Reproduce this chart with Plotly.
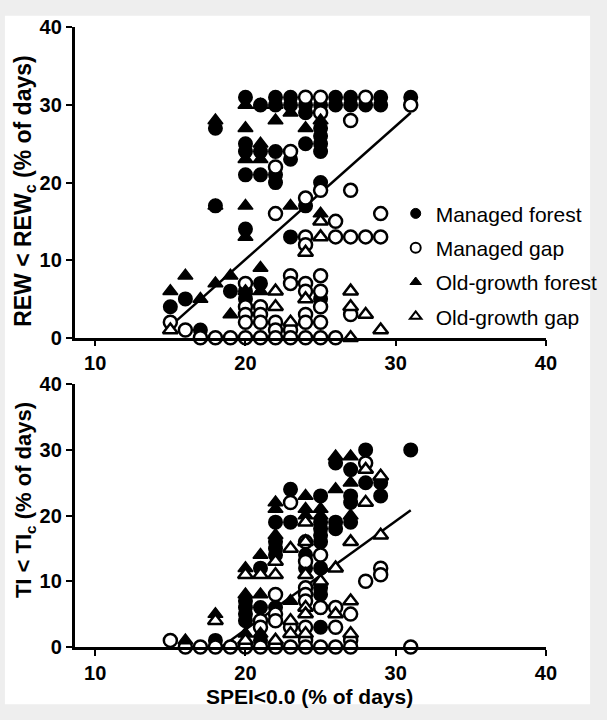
import plotly.graph_objects as go

# ---------------- data (top panel: REW < REWc) ----------------
mf_top_x = [15, 16, 17, 18, 18, 19, 20, 20, 20, 20, 20, 20, 20, 21, 21, 21, 21,
            22, 22, 22, 22, 22, 23, 23, 23, 23, 24, 24, 24, 24,
            25, 25, 25, 25, 25, 25, 25, 26, 26, 27, 27, 28, 29, 29, 31]
mf_top_y = [4, 5, 1, 27, 17, 6, 31, 25, 24, 21, 14, 6, 5, 30, 24, 21, 7,
            31, 30, 24, 21, 20, 31, 30, 23, 13, 30, 29, 25, 17,
            30, 27, 26, 25, 24, 20, 5, 31, 30, 31, 30, 30, 31, 30, 31]

mg_top_x = [15, 16, 17, 18, 19, 20, 20, 20, 20, 20, 21, 21, 21, 21,
            22, 22, 22, 22, 22, 23, 23, 23, 23, 23,
            24, 24, 24, 24, 24, 24, 24, 24, 24,
            25, 25, 25, 25, 25, 25, 25, 25, 26, 26, 26, 27, 27, 27, 27, 28, 28, 29, 29, 31]
mg_top_y = [2, 1, 0, 0, 0, 0, 7, 4, 3, 2, 0, 4, 3, 2,
            22, 16, 2, 1, 0, 24, 8, 7, 1, 0,
            31, 18, 13, 12, 7, 6, 3, 2, 0,
            31, 29, 19, 8, 6, 4, 2, 0, 15, 13, 0, 28, 19, 13, 3, 31, 13, 16, 13, 30]

of_top_x = [15, 16, 17, 18, 18, 18, 19, 19, 20, 20, 20, 20, 20, 20,
            21, 21, 21, 21, 21, 22, 22, 23, 23, 24, 25, 25]
of_top_y = [6, 8, 5, 28, 17, 7, 8, 3, 30, 27, 23, 17, 13, 6,
            30, 25, 23, 9, 6, 30, 28, 29, 17, 27, 28, 16]

og_top_x = [15, 22, 22, 23, 24, 24, 25, 25, 27, 27, 27, 28, 29]
og_top_y = [1, 6, 4, 2, 11, 5, 15, 13, 6, 4, 0, 3, 1]

fit_top_x = [15, 31]
fit_top_y = [1.5, 29.0]

# ---------------- data (bottom panel: TI < TIc) ----------------
mf_bot_x = [18, 20, 20, 20, 20, 21, 21, 21, 22, 22, 22, 22, 22, 23, 23, 24, 24,
            25, 25, 25, 25, 25, 25, 25, 25, 25, 25, 26, 26, 26,
            27, 27, 27, 27, 28, 28, 29, 29, 31]
mf_bot_y = [1, 7, 6, 5, 4, 12, 6, 1, 19, 16, 15, 14, 6, 24, 19, 14, 12,
            23, 19, 18, 17, 16, 12, 9, 8, 6, 3, 28, 19, 18,
            27, 23, 22, 19, 30, 25, 25, 23, 30]

mg_bot_x = [15, 16, 17, 18, 19, 20, 21, 21, 21, 22, 22, 22, 22, 23, 23, 23,
            24, 24, 24, 24, 24, 24, 24, 24, 25, 25, 25, 26, 26, 26,
            27, 27, 27, 28, 28, 29, 29, 31]
mg_bot_y = [1, 0, 0, 0, 0, 0, 4, 3, 0, 8, 5, 4, 0, 22, 3, 0,
            16, 13, 9, 8, 7, 3, 1, 0, 14, 6, 0, 6, 3, 0,
            5, 1, 0, 28, 10, 12, 11, 0]

of_bot_x = [16, 18, 20, 20, 20, 21, 21, 21, 22, 22, 22, 23, 24, 24, 24,
            25, 25, 26, 26, 27, 27, 27, 29]
of_bot_y = [1, 5, 12, 8, 2, 14, 8, 2, 22, 21, 17, 7, 23, 21, 20,
            21, 20, 24, 29, 29, 25, 20, 26]

og_bot_x = [18, 20, 20, 21, 22, 22, 22, 23, 23, 23, 24, 24, 24, 24, 24, 24,
            25, 26, 26, 27, 27, 27, 28, 28, 29, 29]
og_bot_y = [4, 11, 1, 11, 13, 11, 1, 15, 4, 2, 19, 16, 11, 6, 5, 2,
            10, 12, 5, 16, 7, 2, 27, 22, 26, 17]

fit_bot_x = [18.4, 31]
fit_bot_y = [0, 20.8]

series_names = ["Managed forest", "Managed gap", "Old-growth forest", "Old-growth gap"]
x_ticks = [10, 20, 30, 40]
y_ticks = [0, 10, 20, 30, 40]

# ---------------- figure ----------------
W, H = 607, 720
FONT = "Arial, Liberation Sans, sans-serif"

styles = [
    dict(symbol="circle", color="black", line=dict(color="black", width=2)),
    dict(symbol="circle", color="white", line=dict(color="black", width=2.5)),
    dict(symbol="triangle-up", color="black", line=dict(color="black", width=1.5)),
    dict(symbol="triangle-up", color="white", line=dict(color="black", width=2.5)),
]

fig = go.Figure()

top_sets = [(mf_top_x, mf_top_y), (mg_top_x, mg_top_y), (of_top_x, of_top_y), (og_top_x, og_top_y)]
bot_sets = [(mf_bot_x, mf_bot_y), (mg_bot_x, mg_bot_y), (of_bot_x, of_bot_y), (og_bot_x, og_bot_y)]

fig.add_trace(go.Scatter(x=fit_top_x, y=fit_top_y, mode="lines", line=dict(color="black", width=2.5),
                         showlegend=False, xaxis="x", yaxis="y", hoverinfo="skip"))
fig.add_trace(go.Scatter(x=fit_bot_x, y=fit_bot_y, mode="lines", line=dict(color="black", width=2.5),
                         showlegend=False, xaxis="x2", yaxis="y2", hoverinfo="skip"))

for (xs, ys), name, st in zip(top_sets, series_names, styles):
    fig.add_trace(go.Scatter(
        x=xs, y=ys, mode="markers", name=name, showlegend=False,
        marker=dict(symbol=st["symbol"], size=13, color=st["color"], line=st["line"]),
        cliponaxis=False, xaxis="x", yaxis="y"))
for (xs, ys), name, st in zip(bot_sets, series_names, styles):
    fig.add_trace(go.Scatter(
        x=xs, y=ys, mode="markers", name=name, showlegend=False,
        marker=dict(symbol=st["symbol"], size=13, color=st["color"], line=st["line"]),
        cliponaxis=False, xaxis="x2", yaxis="y2"))
# legend entries (smaller symbols, as in the reference key)
for name, st in zip(series_names, styles):
    fig.add_trace(go.Scatter(
        x=[None], y=[None], mode="markers", name=name, legendgroup=name,
        marker=dict(symbol=st["symbol"], size=10, color=st["color"],
                    line=dict(color="black", width=2 if st["color"] == "white" else 1)),
        xaxis="x", yaxis="y"))

x_left, x_right = 76, 556
px_per_unit = (x_right - 97) / 30
x_range = [10 - (97 - x_left) / px_per_unit, 40]

axis_common = dict(
    showline=True, linecolor="black", linewidth=2.5, mirror=False,
    ticks="outside", ticklen=6, tickwidth=2, tickcolor="black",
    showgrid=False, zeroline=False,
    tickfont=dict(family=FONT, size=20, color="black", weight="bold"),
)

fig.update_layout(
    width=W, height=H,
    margin=dict(l=0, r=0, t=0, b=0),
    paper_bgcolor="#eeeeee", plot_bgcolor="white",
    showlegend=True,
    legend=dict(x=403 / W, y=1 - 188 / H, xanchor="left", yanchor="top",
                tracegroupgap=4,
                bgcolor="rgba(0,0,0,0)", font=dict(family=FONT, size=21, color="black")),
    xaxis=dict(domain=[x_left / W, x_right / W], range=x_range, anchor="y",
               tickvals=x_ticks, **axis_common),
    yaxis=dict(domain=[(H - 337) / H, (H - 17) / H], range=[0, 40], anchor="x",
               tickvals=y_ticks, **axis_common),
    xaxis2=dict(domain=[x_left / W, x_right / W], range=x_range, anchor="y2",
                tickvals=x_ticks, **axis_common),
    yaxis2=dict(domain=[(H - 656) / H, (H - 385) / H], range=[0, 40], anchor="x2",
                tickvals=y_ticks, **axis_common),
    shapes=[dict(type="rect", xref="paper", yref="paper", x0=5 / W, x1=601 / W,
                 y0=5 / H, y1=1 - 5 / H, fillcolor="white", line=dict(width=0), layer="below")],
    annotations=[
        dict(text="REW < REW<sub>c</sub> (% of days)", xref="paper", yref="paper",
             x=25 / W, y=1 - 186 / H, xanchor="center", yanchor="middle",
             textangle=-90, showarrow=False,
             font=dict(family=FONT, size=23, color="black", weight="bold")),
        dict(text="TI < TI<sub>c</sub> (% of days)", xref="paper", yref="paper",
             x=25 / W, y=1 - 505 / H, xanchor="center", yanchor="middle",
             textangle=-90, showarrow=False,
             font=dict(family=FONT, size=22, color="black", weight="bold")),
        dict(text="SPEI<0.0 (% of days)", xref="paper", yref="paper",
             x=315 / W, y=1 - 707 / H, xanchor="center", yanchor="middle", showarrow=False,
             font=dict(family=FONT, size=21, color="black", weight="bold")),
    ],
)

fig.write_html("out.html")
